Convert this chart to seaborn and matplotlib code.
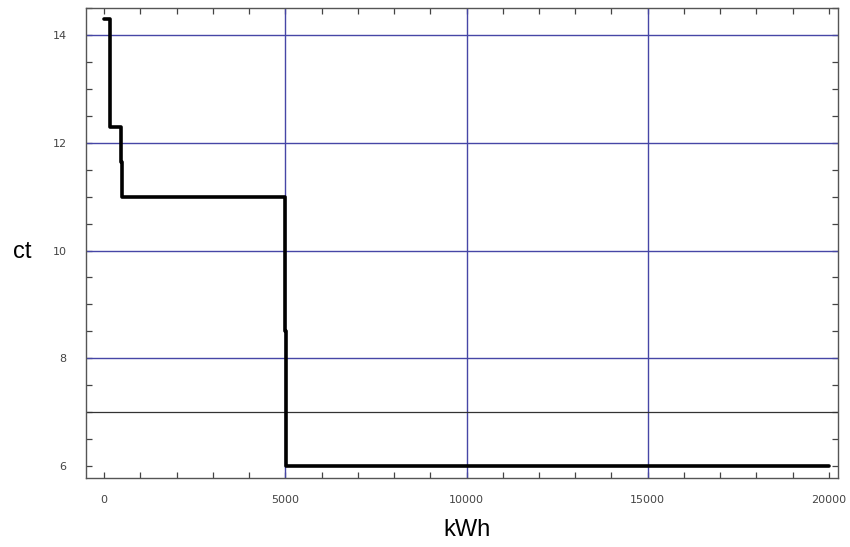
import matplotlib
matplotlib.use("Agg")
import matplotlib.pyplot as plt
from matplotlib.ticker import MultipleLocator
import seaborn as sns
import pandas as pd

# Tariff steps: consumption breakpoints (kWh) and price per kWh (ct) from each breakpoint on
kwh = [0, 160, 460, 500, 4990, 5010, 20000]
ct = [14.3, 12.3, 11.65, 11.0, 8.5, 6.0, 6.0]
x_ticks = [0, 5000, 10000, 15000, 20000]
y_ticks = [6, 8, 10, 12, 14]

sns.set_theme(style="white")
plt.rcParams["font.family"] = ["DejaVu Sans"]

fig = plt.figure(figsize=(8.5, 5.47), dpi=100)
ax = fig.add_axes([86 / 850, 1 - 478 / 547, (838 - 86) / 850, (478 - 8) / 547])

grid_col = "#4646a6"
for gx in [5000, 10000, 15000]:
    ax.axvline(gx, color=grid_col, lw=1.0, zorder=1)
for gy in [8, 10, 12, 14]:
    ax.axhline(gy, color=grid_col, lw=1.0, zorder=1)
ax.axhline(7, color="#333333", lw=0.9, zorder=1)

df = pd.DataFrame({"kWh": kwh, "ct": ct})
sns.lineplot(data=df, x="kWh", y="ct", ax=ax, color="black", lw=2.6,
             drawstyle="steps-post", zorder=3)

ax.set_xlim(-500, 20250)
ax.set_ylim(5.78, 14.5)
ax.set_xticks(x_ticks)
ax.set_yticks(y_ticks)
ax.set_xticklabels([str(v) for v in x_ticks])
ax.set_yticklabels([str(v) for v in y_ticks])
ax.xaxis.set_minor_locator(MultipleLocator(1000))
ax.yaxis.set_minor_locator(MultipleLocator(0.5))
ax.tick_params(which="both", direction="in", top=True, right=True,
               bottom=True, left=True,
               length=4, width=0.9, color="#444444")
ax.tick_params(which="major", labelsize=8, labelcolor="#444444", pad=12)
ax.tick_params(axis="y", which="major", pad=14)
ax.set_xlabel("")
ax.set_ylabel("")
for s in ax.spines.values():
    s.set_color("#555555")
    s.set_linewidth(1.0)

fig.text(22 / 850, 1 - 252 / 547, "ct", fontsize=17, family="Liberation Sans",
         ha="center", va="center", color="black")
fig.text(467 / 850, 1 - 530 / 547, "kWh", fontsize=17, family="Liberation Sans",
         ha="center", va="center", color="black")

fig.savefig("out.png", dpi=100)
